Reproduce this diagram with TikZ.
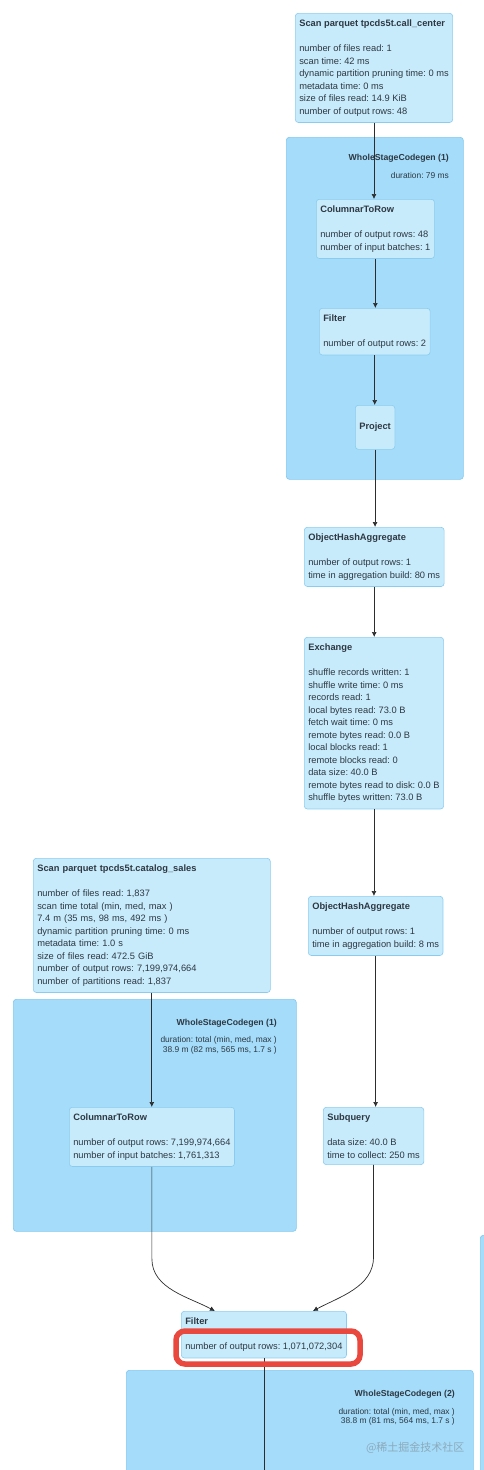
\documentclass[tikz,border=0pt]{standalone}
\usepackage{fontspec}
\setmainfont{Liberation Sans}
\newfontfamily\cjkfont{Noto Sans CJK SC}
\usepackage{tikz}
\usetikzlibrary{arrows.meta,positioning}
\usepackage{xcolor}
\definecolor{stagefill}{RGB}{164,220,250}
\definecolor{stageline}{RGB}{128,200,240}
\definecolor{opfill}{RGB}{200,235,252}
\definecolor{opline}{RGB}{138,204,240}
\definecolor{optext}{RGB}{45,56,66}
\definecolor{flowline}{RGB}{45,45,45}
\definecolor{markred}{RGB}{232,72,62}
\definecolor{wmgray}{RGB}{140,170,188}
\frenchspacing

\begin{document}
\begin{tikzpicture}[x=1pt, y=-1pt,
    every node/.style={text=optext},
    stage/.style={draw=stageline, fill=stagefill, line width=0.6pt, rounded corners=3pt, inner sep=0pt, anchor=north west},
    opbox/.style={draw=opline, fill=opfill, line width=0.6pt, rounded corners=3pt, align=left, anchor=north west,
      inner xsep=4pt, inner ysep=6.5pt, font=\frenchspacing\fontsize{9.3}{12.5}\selectfont},
    stagelabel/.style={anchor=east, inner sep=0pt, font=\bfseries\fontsize{8.7}{10}\selectfont},
    stagenote/.style={anchor=east, align=right, inner sep=0pt, font=\frenchspacing\fontsize{8.4}{9.5}\selectfont},
    flow/.style={draw=flowline, line width=0.7pt, -{Latex[length=5pt,width=5pt]}},
    plain/.style={draw=flowline, line width=0.7pt}]
  \useasboundingbox (0,0) rectangle (484,1470);
  \clip (0,0) rectangle (484,1470);

  % stages
  \node[stage, minimum width=177pt, minimum height=342pt] (wsc1a) at (286,137) {};
  \node[stage, minimum width=283pt, minimum height=232pt] (wsc1b) at (13,999) {};
  \node[stage, minimum width=347pt, minimum height=130pt] (wsc2) at (126,1370) {};
  \node[stage, minimum width=30pt, minimum height=260pt] (wsc3) at (480,1235) {};

  \node[stagelabel] (wsc1a-t) at (449,158) {WholeStageCodegen (1)};
  \node[stagenote] (wsc1a-d) at (449,175) {duration: 79 ms};
  \node[stagelabel] (wsc1b-t) at (277,1023) {WholeStageCodegen (1)};
  \node[stagenote] (wsc1b-d) at (277,1045.5) {duration: total (min, med, max )\\38.9 m (82 ms, 565 ms, 1.7 s )};
  \node[stagelabel] (wsc2-t) at (455,1394) {WholeStageCodegen (2)};
  \node[stagenote] (wsc2-d) at (455,1417) {duration: total (min, med, max )\\38.8 m (81 ms, 564 ms, 1.7 s )};

  % right branch
  \node[opbox] (scancc) at (295,13) {\textbf{Scan parquet tpcds5t.call\_center}\\[12.5pt]
    number of files read: 1\\
    scan time: 42 ms\\
    dynamic partition pruning time: 0 ms\\
    metadata time: 0 ms\\
    size of files read: 14.9 KiB\\
    number of output rows: 48};
  \node[opbox] (c2r1) at (316,199) {\textbf{ColumnarToRow}\\[12.5pt]
    number of output rows: 48\\
    number of input batches: 1};
  \node[opbox] (filt1) at (319,308) {\textbf{Filter}\\[12.5pt]
    number of output rows: 2};
  \node[opbox, minimum height=44pt] (proj) at (355,405) {\textbf{Project}};
  \node[opbox] (oha1) at (304,527) {\textbf{ObjectHashAggregate}\\[12.5pt]
    number of output rows: 1\\
    time in aggregation build: 80 ms};
  \node[opbox] (exch) at (304,637) {\textbf{Exchange}\\[12.5pt]
    shuffle records written: 1\\
    shuffle write time: 0 ms\\
    records read: 1\\
    local bytes read: 73.0 B\\
    fetch wait time: 0 ms\\
    remote bytes read: 0.0 B\\
    local blocks read: 1\\
    remote blocks read: 0\\
    data size: 40.0 B\\
    remote bytes read to disk: 0.0 B\\
    shuffle bytes written: 73.0 B};
  \node[opbox] (oha2) at (308,896) {\textbf{ObjectHashAggregate}\\[12.5pt]
    number of output rows: 1\\
    time in aggregation build: 8 ms};
  \node[opbox] (subq) at (323,1107) {\textbf{Subquery}\\[12.5pt]
    data size: 40.0 B\\
    time to collect: 250 ms};

  % left branch
  \node[opbox, text width=229pt] (scancs) at (33,858) {\textbf{Scan parquet tpcds5t.catalog\_sales}\\[12.5pt]
    number of files read: 1,837\\
    scan time total (min, med, max )\\
    7.4 m (35 ms, 98 ms, 492 ms )\\
    dynamic partition pruning time: 0 ms\\
    metadata time: 1.0 s\\
    size of files read: 472.5 GiB\\
    number of output rows: 7,199,974,664\\
    number of partitions read: 1,837};
  \node[opbox] (c2r2) at (69,1107) {\textbf{ColumnarToRow}\\[12.5pt]
    number of output rows: 7,199,974,664\\
    number of input batches: 1,761,313};

  \node[opbox] (filt2) at (181,1311) {\textbf{Filter}\\[12.5pt]
    number of output rows: 1,071,072,304};
  \coordinate (bottom) at (263,1480);

  \draw[flow] (scancc.south) -- (scancc.south |- c2r1.north);
  \draw[flow] (c2r1.south) -- (c2r1.south |- filt1.north);
  \draw[flow] (filt1.south) -- (filt1.south |- proj.north);
  \draw[flow] (proj.south) -- (proj.south |- oha1.north);
  \draw[flow] (oha1.south) -- (oha1.south |- exch.north);
  \draw[flow] (exch.south) -- (exch.south |- oha2.north);
  \draw[flow] (oha2.south) -- (oha2.south |- subq.north);
  \draw[flow] (scancs.south) -- (scancs.south |- c2r2.north);
  \draw[flow] (c2r2.south) -- ++(0,92) .. controls +(0,30) and +(-26,-14) .. ([xshift=-49pt]filt2.north);
  \draw[flow] (subq.south) -- ++(0,92) .. controls +(0,30) and +(26,-14) .. ([xshift=49pt]filt2.north);
  \draw[plain] (filt2.south) -- (filt2.south |- bottom);

  \draw[markred, line width=5.5pt, rounded corners=9pt] (176,1331) rectangle (360,1364);
  \node[anchor=east, text=wmgray, font=\cjkfont\fontsize{11}{11}\selectfont] (wmark) at (468,1448) {@稀土掘金技术社区};
\end{tikzpicture}
\end{document}
